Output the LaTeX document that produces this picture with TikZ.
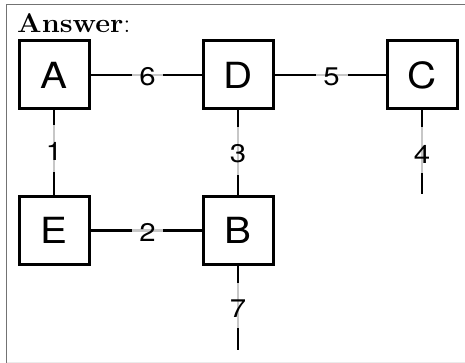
\documentclass[tikz,border=0pt]{standalone}
\usepackage{graphicx}
\usepackage{fontspec}
\newfontfamily\helv{TeX Gyre Heros}
\newcommand{\widen}[2]{\scalebox{#1}[1]{#2}}
\begin{document}
\begin{tikzpicture}[x=1pt,y=-1pt,
  vbox/.style={draw=black, line width=3pt, minimum width=70pt, minimum height=68pt,
               inner sep=0pt, font=\helv\fontsize{36}{40}\selectfont},
  edge/.style={draw=black, line width=2.7pt},
  gap/.style={draw=black!22, line width=2.7pt},
  wlabel/.style={inner sep=0pt, font=\helv\fontsize{25.5}{28}\selectfont},
  frameline/.style={draw=black!55, line width=1.8pt}]
  \useasboundingbox (0,0) rectangle (465,363);
  % page frame
  \draw[frameline] (6.5,4.5) -- (465,4.5);
  \draw[frameline] (6.5,4.5) -- (6.5,363);
  \draw[draw=black!8, line width=1pt] (6.5,362) -- (465,362);

  \node[anchor=base west, inner sep=0pt, font=\fontsize{27}{30}\selectfont] (title) at (17,33)
    {\widen{1.07}{\textbf{Answer}:}};

  % vertices
  \node[vbox] (A) at (54,75) {\widen{1.12}{A}};
  \node[vbox] (D) at (238,75) {\widen{1.12}{D}};
  \node[vbox] (C) at (422,75) {\widen{1.12}{C}};
  \node[vbox] (E) at (54,230.5) {\widen{1.12}{E}};
  \node[vbox] (B) at (238,230.5) {\widen{1.12}{B}};

  % free ends
  \coordinate (c4) at (422,194);
  \coordinate (c7) at (238,350);

  % edges
  \draw[edge] (A) -- (D);
  \draw[edge] (D) -- (C);
  \draw[edge] (A) -- (E);
  \draw[edge] (D) -- (B);
  \draw[edge] (E) -- (B);
  \draw[edge] (C.south) -- (c4);
  \draw[edge] (B.south) -- (c7);

  % light segments behind weights
  \draw[gap] (132,75) -- (163,75);
  \draw[gap] (316,75) -- (348,75);
  \draw[gap] (132,230.5) -- (163,230.5);
  \draw[gap] (54,125) -- (54,172);
  \draw[gap] (238,127) -- (238,175);
  \draw[gap] (422,127) -- (422,173);
  \draw[gap] (238,283) -- (238,328);

  % weights
  \node[wlabel] (w6) at (147.5,76.5) {\widen{1.15}{6}};
  \node[wlabel] (w5) at (331.5,76.5) {\widen{1.15}{5}};
  \node[wlabel] (w2) at (147.5,232) {\widen{1.15}{2}};
  \node[wlabel] (w1) at (54,151) {\widen{1.15}{1}};
  \node[wlabel] (w3) at (238,154) {\widen{1.15}{3}};
  \node[wlabel] (w4) at (422,154) {\widen{1.15}{4}};
  \node[wlabel] (w7) at (238,309) {\widen{1.15}{7}};
\end{tikzpicture}
\end{document}
